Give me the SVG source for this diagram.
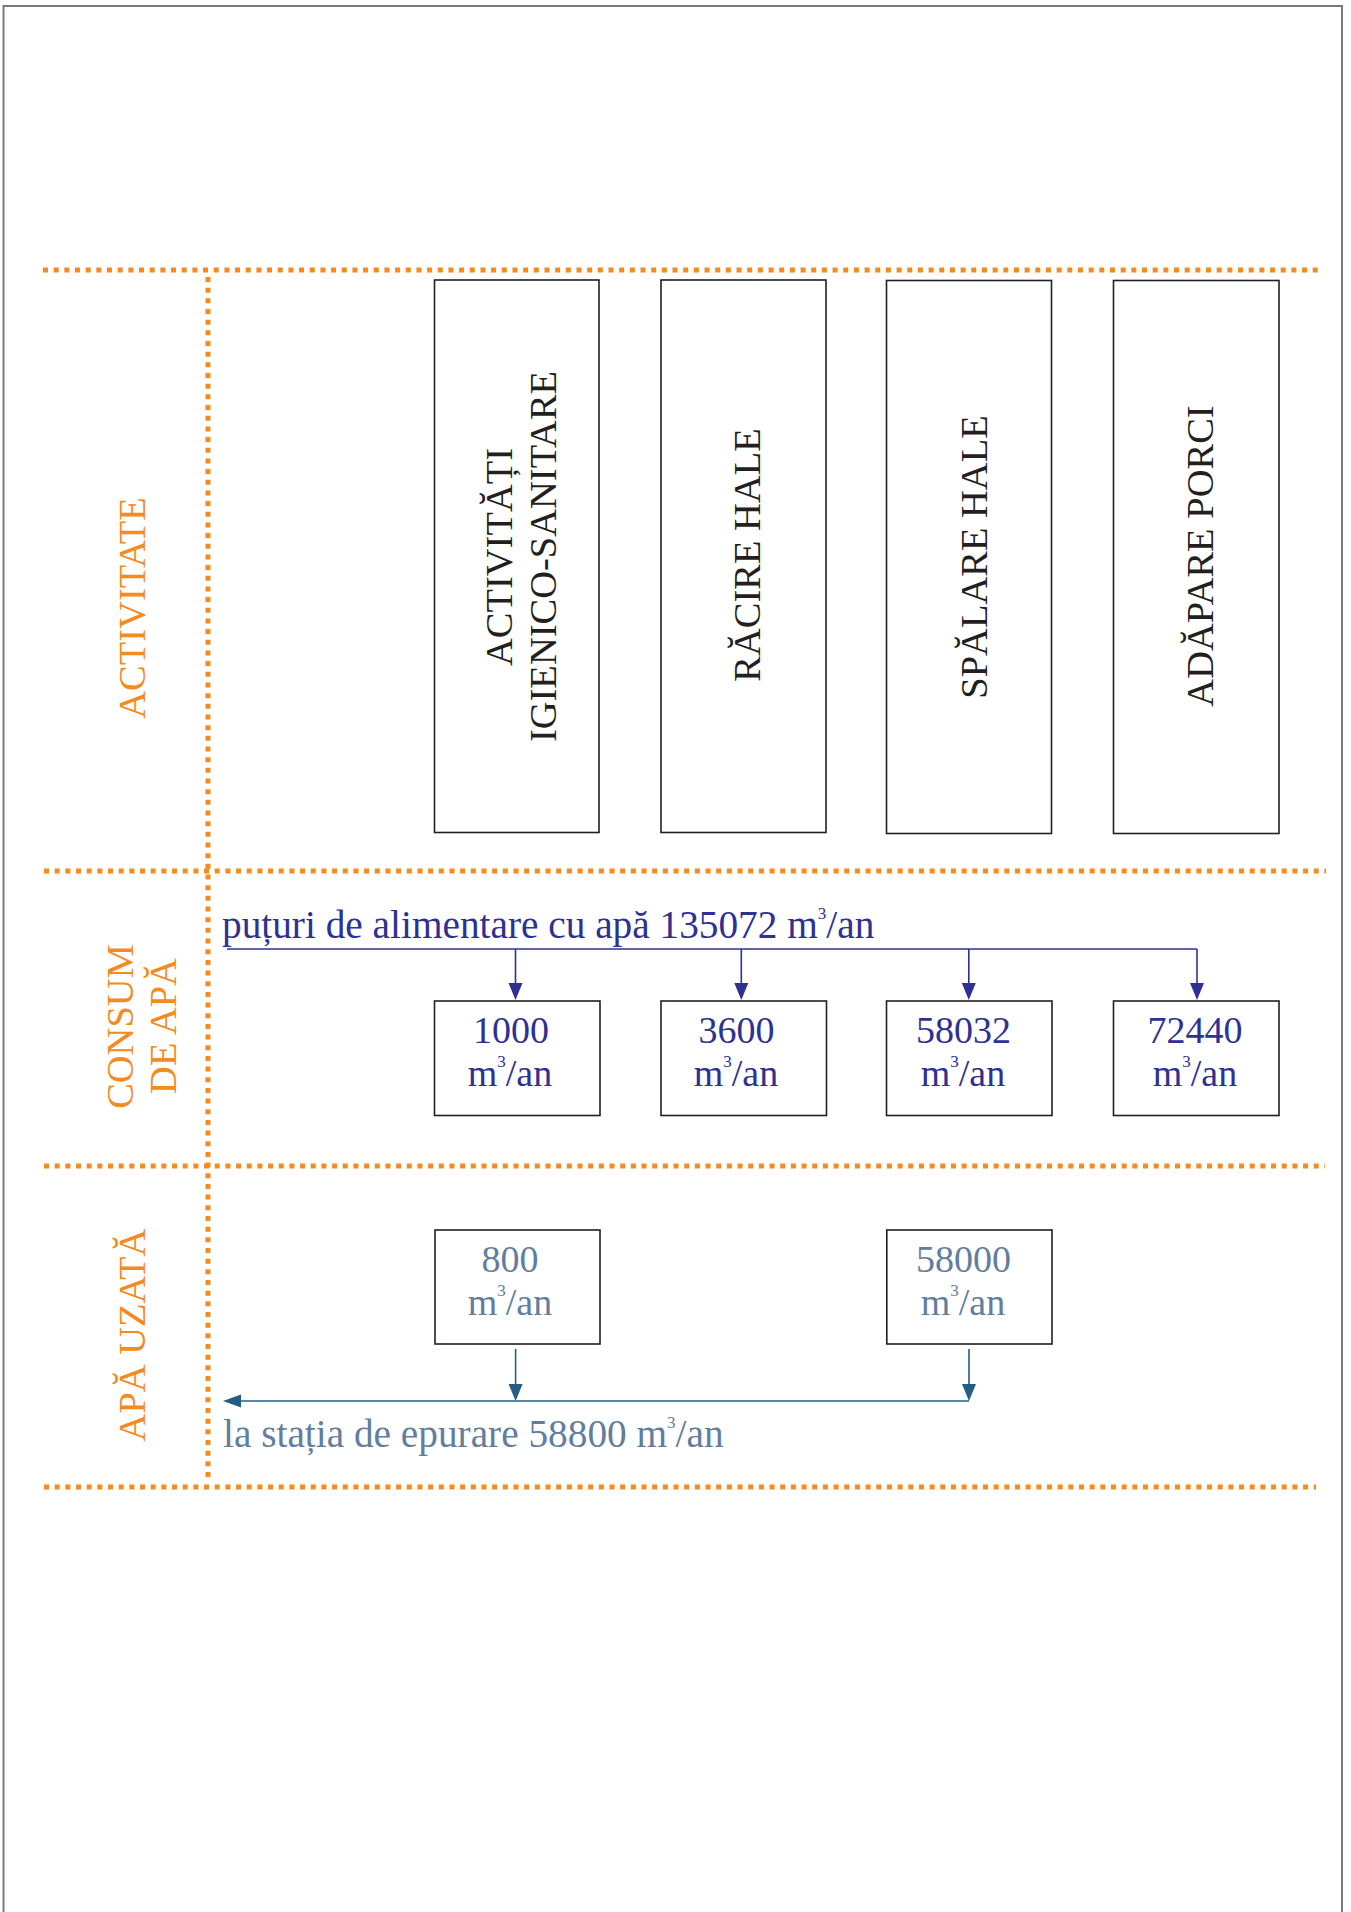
<svg xmlns="http://www.w3.org/2000/svg" width="1351" height="1912" viewBox="0 0 1351 1912">
<style>
.bd{fill:none;stroke:#7a7a7a;stroke-width:2}
.dot{fill:none;stroke:#F58A1F;stroke-width:5;stroke-dasharray:5 5.67}
.box{fill:#fff;stroke:#231F20;stroke-width:1.6}
.lbl{font-family:"Liberation Serif","Times New Roman",serif;font-size:38.5px;fill:#F58A1F;text-anchor:middle}
.act{font-family:"Liberation Serif","Times New Roman",serif;font-size:38.5px;fill:#231F20;text-anchor:middle}
.blue{font-family:"Liberation Serif","Times New Roman",serif;font-size:38px;fill:#2E3192}
.gray{font-family:"Liberation Serif","Times New Roman",serif;font-size:38px;fill:#627E9E}
.big{font-size:39.3px}
.mid{text-anchor:middle}
.sup{font-size:17px}
.lb{fill:none;stroke:#2E3192;stroke-width:1.6}
.lg{fill:none;stroke:#245E82;stroke-width:1.6}
</style>
<rect class="bd" x="3.5" y="6" width="1338.5" height="1920"/>
<g id="grid">
<line class="dot" x1="43" y1="270" x2="1320" y2="270"/>
<line class="dot" x1="44" y1="871" x2="1326" y2="871"/>
<line class="dot" x1="44" y1="1166" x2="1325" y2="1166"/>
<line class="dot" x1="44" y1="1487" x2="1316" y2="1487"/>
<line class="dot" x1="208" y1="277" x2="208" y2="1477"/>
</g>
<g id="label-activitate"><text class="lbl" transform="translate(145,608) rotate(-90)">ACTIVITATE</text></g>
<g id="label-consum"><text class="lbl" transform="translate(133,1026.5) rotate(-90)">CONSUM</text><text class="lbl" transform="translate(176,1026) rotate(-90)">DE APĂ</text></g>
<g id="label-uzata"><text class="lbl" transform="translate(145,1335) rotate(-90)">APĂ UZATĂ</text></g>

<g id="act1"><rect class="box" x="434.5" y="280" width="164.5" height="552.5"/>
<text class="act" transform="translate(512,557) rotate(-90)">ACTIVITĂȚI</text>
<text class="act" transform="translate(556,556.5) rotate(-90)">IGIENICO-SANITARE</text></g>
<g id="act2"><rect class="box" x="661" y="280" width="165" height="552.5"/>
<text class="act" transform="translate(760,555) rotate(-90)">RĂCIRE HALE</text></g>
<g id="act3"><rect class="box" x="886.5" y="280.5" width="165" height="553"/>
<text class="act" transform="translate(987,557) rotate(-90)">SPĂLARE HALE</text></g>
<g id="act4"><rect class="box" x="1113.5" y="280.5" width="165.5" height="553"/>
<text class="act" transform="translate(1213,556) rotate(-90)">ADĂPARE PORCI</text></g>

<g id="src"><text class="blue big" x="222" y="938">puțuri de alimentare cu apă 135072 m<tspan class="sup" dy="-19">3</tspan><tspan dy="19">/an</tspan></text></g>

<g id="c1"><rect class="box" x="434.5" y="1001" width="165.5" height="114.5"/>
<text class="blue mid" x="511" y="1043">1000</text>
<text class="blue mid" x="510" y="1086">m<tspan class="sup" dy="-19">3</tspan><tspan dy="19">/an</tspan></text></g>
<g id="c2"><rect class="box" x="661" y="1001" width="165.5" height="114.5"/>
<text class="blue mid" x="736.5" y="1043">3600</text>
<text class="blue mid" x="736" y="1086">m<tspan class="sup" dy="-19">3</tspan><tspan dy="19">/an</tspan></text></g>
<g id="c3"><rect class="box" x="886.5" y="1001" width="165.5" height="114.5"/>
<text class="blue mid" x="963.5" y="1043">58032</text>
<text class="blue mid" x="963" y="1086">m<tspan class="sup" dy="-19">3</tspan><tspan dy="19">/an</tspan></text></g>
<g id="c4"><rect class="box" x="1113.5" y="1001" width="165.5" height="114.5"/>
<text class="blue mid" x="1195" y="1043">72440</text>
<text class="blue mid" x="1195" y="1086">m<tspan class="sup" dy="-19">3</tspan><tspan dy="19">/an</tspan></text></g>

<g id="u1"><rect class="box" x="435" y="1230" width="165" height="114"/>
<text class="gray mid" x="510" y="1272">800</text>
<text class="gray mid" x="510" y="1315">m<tspan class="sup" dy="-19">3</tspan><tspan dy="19">/an</tspan></text></g>
<g id="u2"><rect class="box" x="886.8" y="1230" width="165.2" height="114"/>
<text class="gray mid" x="963.5" y="1272">58000</text>
<text class="gray mid" x="963" y="1315">m<tspan class="sup" dy="-19">3</tspan><tspan dy="19">/an</tspan></text></g>

<g id="dst"><text class="gray big" x="223" y="1447">la stația de epurare 58800 m<tspan class="sup" dy="-19">3</tspan><tspan dy="19">/an</tspan></text></g>

<g id="connectors">
<polyline class="lb" points="227,949 1197,949"/>
<line class="lb" x1="515.5" y1="949" x2="515.5" y2="985"/>
<line class="lb" x1="741.3" y1="949" x2="741.3" y2="985"/>
<line class="lb" x1="968.8" y1="949" x2="968.8" y2="985"/>
<line class="lb" x1="1197" y1="949" x2="1197" y2="985"/>
<g fill="#2E3192">
<polygon points="508.5,983 522.5,983 515.5,1000"/>
<polygon points="734.3,983 748.3,983 741.3,1000"/>
<polygon points="961.8,983 975.8,983 968.8,1000"/>
<polygon points="1190,983 1204,983 1197,1000"/>
</g>
<line class="lg" x1="515.6" y1="1349" x2="515.6" y2="1385"/>
<line class="lg" x1="969" y1="1349" x2="969" y2="1385"/>
<polyline class="lg" points="969,1401 238,1401"/>
<g fill="#245E82">
<polygon points="508.6,1384 522.6,1384 515.6,1401"/>
<polygon points="962,1384 976,1384 969,1401"/>
<polygon points="223,1401 241,1394.5 241,1407.5"/>
</g>
</g>
</svg>
